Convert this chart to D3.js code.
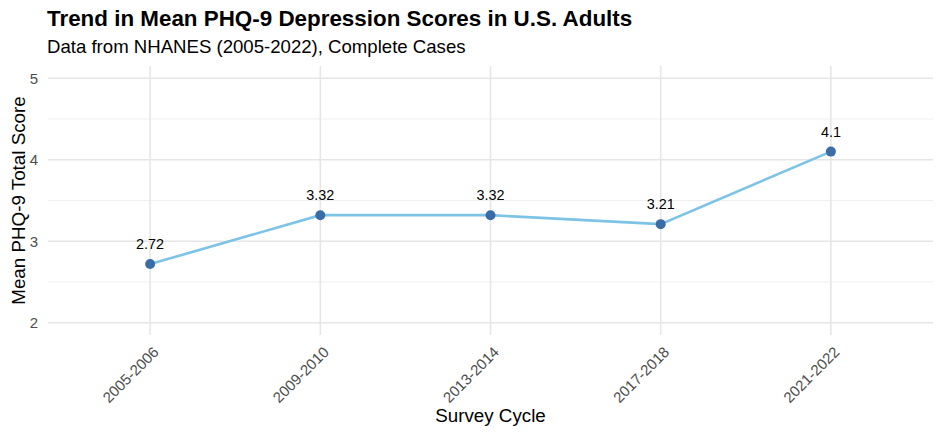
<!DOCTYPE html>
<html>
<head>
<meta charset="utf-8">
<script src="https://cdn.jsdelivr.net/npm/d3@7"></script>
<style>
  body { margin: 0; background: #fff; }
  text { font-family: "Liberation Sans", Arial, Helvetica, sans-serif; }
</style>
</head>
<body>
<div id="chart"></div>
<script>
// data
const cycles = ["2005-2006", "2009-2010", "2013-2014", "2017-2018", "2021-2022"];
const meanScores = [2.72, 3.32, 3.32, 3.21, 4.1];
const scoreLabels = ["2.72", "3.32", "3.32", "3.21", "4.1"];
const yTicks = [2, 3, 4, 5];
const yMinor = [2.5, 3.5, 4.5];

const width = 943, height = 435;
const panel = {left: 48, right: 933, top: 66, bottom: 335};

const svg = d3.select("#chart").append("svg")
    .attr("width", width)
    .attr("height", height);

const x = d3.scalePoint()
    .domain(cycles)
    .range([panel.left, panel.right])
    .padding(0.6);

// limits 2..5 with 5% expansion
const y = d3.scaleLinear()
    .domain([1.85, 5.15])
    .range([panel.bottom, panel.top]);

const data = cycles.map((c, i) => ({cycle: c, score: meanScores[i], label: scoreLabels[i]}));

// grid
const grid = svg.append("g");
grid.selectAll(".minor")
    .data(yMinor)
    .join("line")
    .attr("x1", panel.left).attr("x2", panel.right)
    .attr("y1", d => y(d)).attr("y2", d => y(d))
    .attr("stroke", "#efefef").attr("stroke-width", 1.2);

grid.selectAll(".major")
    .data(yTicks)
    .join("line")
    .attr("x1", panel.left).attr("x2", panel.right)
    .attr("y1", d => y(d)).attr("y2", d => y(d))
    .attr("stroke", "#e6e6e6").attr("stroke-width", 1.6);

grid.selectAll(".vmajor")
    .data(cycles)
    .join("line")
    .attr("x1", d => x(d)).attr("x2", d => x(d))
    .attr("y1", panel.top).attr("y2", panel.bottom)
    .attr("stroke", "#e6e6e6").attr("stroke-width", 1.6);

// axes (text only, like theme_minimal)
const yAxis = svg.append("g")
    .attr("transform", `translate(${panel.left},0)`)
    .call(d3.axisLeft(y).tickValues(yTicks).tickFormat(d3.format("d")).tickSize(0).tickPadding(10));
yAxis.select(".domain").remove();
yAxis.selectAll("text")
    .attr("fill", "#4d4d4d")
    .style("font-size", "15px")
    .style("font-family", "'Liberation Sans', Arial, sans-serif");

const xAxis = svg.append("g")
    .attr("transform", `translate(0,${panel.bottom})`)
    .call(d3.axisBottom(x).tickSize(0).tickPadding(0));
xAxis.select(".domain").remove();
xAxis.selectAll("text")
    .attr("fill", "#4d4d4d")
    .style("font-size", "15px")
    .style("font-family", "'Liberation Sans', Arial, sans-serif")
    .attr("text-anchor", "end")
    .attr("dy", null)
    .attr("y", 0)
    .attr("transform", "translate(9,18) rotate(-45)");

// line + points
const line = d3.line()
    .x(d => x(d.cycle))
    .y(d => y(d.score));

svg.append("path")
    .datum(data)
    .attr("d", line)
    .attr("fill", "none")
    .attr("stroke", "#7cc3e6")
    .attr("stroke-width", 2.6);

svg.selectAll(".pt")
    .data(data)
    .join("circle")
    .attr("class", "pt")
    .attr("cx", d => x(d.cycle))
    .attr("cy", d => y(d.score))
    .attr("r", 5)
    .attr("fill", "#3a6da8");

svg.selectAll(".lbl")
    .data(data)
    .join("text")
    .attr("class", "lbl")
    .attr("x", d => x(d.cycle))
    .attr("y", d => y(d.score) - 15)
    .attr("text-anchor", "middle")
    .style("font-size", "14.4px")
    .attr("fill", "#000")
    .text(d => d.label);

// titles
svg.append("text")
    .attr("x", 47).attr("y", 26)
    .style("font-size", "22.4px")
    .style("font-weight", "bold")
    .text("Trend in Mean PHQ-9 Depression Scores in U.S. Adults");

svg.append("text")
    .attr("x", 47).attr("y", 53)
    .style("font-size", "18.6px")
    .text("Data from NHANES (2005-2022), Complete Cases");

svg.append("text")
    .attr("x", (panel.left + panel.right) / 2).attr("y", 422)
    .attr("text-anchor", "middle")
    .style("font-size", "18.8px")
    .text("Survey Cycle");

svg.append("text")
    .attr("transform", `translate(25,${(panel.top + panel.bottom) / 2}) rotate(-90)`)
    .attr("text-anchor", "middle")
    .style("font-size", "18.8px")
    .text("Mean PHQ-9 Total Score");
</script>
</body>
</html>
